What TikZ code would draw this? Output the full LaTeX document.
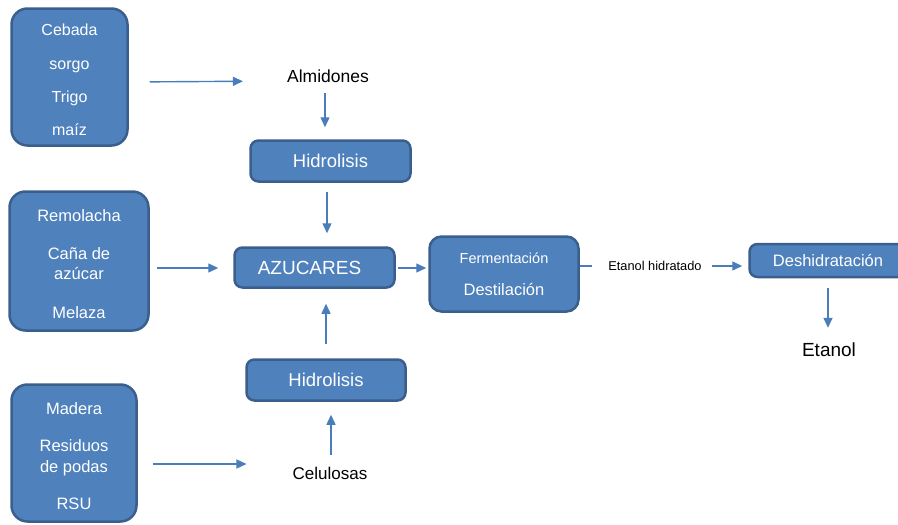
\documentclass[tikz,border=0pt]{standalone}
\usepackage{fontspec}
\setmainfont{Liberation Sans}
\usetikzlibrary{arrows.meta,calc}
\definecolor{boxfill}{HTML}{4F81BD}
\definecolor{boxline}{HTML}{3A5F8C}
\definecolor{arrowc}{HTML}{4A7EBB}
\tikzset{
  bx/.style={draw=boxline, fill=boxfill, line width=2.5pt, rounded corners=#1,
    text=white, align=center, inner sep=0pt},
  bx/.default=8pt,
  arr/.style={draw=arrowc, line width=1.4pt, -{Triangle[length=10pt,width=9pt]}},
  plain/.style={draw=arrowc, line width=1.4pt},
  lbl/.style={text=black, inner sep=3pt},
}
\begin{document}
\begin{tikzpicture}[x=1pt,y=-1pt]
\useasboundingbox (0,0) rectangle (898,525);

% source boxes
\node[bx=16pt, minimum width=116pt, minimum height=137pt,
      font=\fontsize{16}{33.3}\selectfont] (b1) at (69.5,77)
  {\rule{0pt}{18pt}Cebada\\sorgo\\Trigo\\maíz};
\node[bx=16pt, minimum width=139pt, minimum height=139pt,
      font=\fontsize{16.5}{20.5}\selectfont] (b2) at (79,261)
  {\rule{0pt}{18pt}Remolacha\\[17pt]Caña de\\azúcar\\[18pt]Melaza};
\node[bx=16pt, minimum width=125pt, minimum height=137pt,
      font=\fontsize{16.5}{21.5}\selectfont] (b3) at (74,453)
  {\rule{0pt}{18pt}Madera\\[15.5pt]Residuos\\de podas\\[15.5pt]RSU};

% process boxes
\node[bx, minimum width=160pt, minimum height=41pt,
      font=\fontsize{18.5}{22}\selectfont] (hid1) at (330.5,161) {Hidrolisis};
\node[bx, minimum width=160pt, minimum height=40pt,
      font=\fontsize{19}{22}\selectfont] (azu) at (314.5,267.5) {AZUCARES\hspace*{10pt}};
\node[bx=12pt, minimum width=149pt, minimum height=75pt,
      font=\fontsize{16.5}{19}\selectfont] (ferm) at (504,274)
  {{\fontsize{14.5}{17}\selectfont Fermentación}\\[13pt]Destilación};
\node[bx, minimum width=157pt, minimum height=33pt,
      font=\fontsize{16.5}{20}\selectfont] (desh) at (828,260.5) {Deshidratación};
\node[bx, minimum width=159pt, minimum height=41pt,
      font=\fontsize{18.5}{22}\selectfont] (hid2) at (326,380) {Hidrolisis};

% plain labels
\node[lbl, font=\fontsize{17.5}{20}\selectfont] (alm) at (328,76) {Almidones};
\node[lbl, font=\fontsize{17}{20}\selectfont] (cel) at (330,473) {Celulosas};
\node[lbl, font=\fontsize{12.8}{15}\selectfont] (eh) at (655,266) {Etanol hidratado};
\node[lbl, font=\fontsize{19}{22}\selectfont] (eta) at (829,350) {Etanol};

% connectors
\draw[arr, shorten <=21pt, shorten >=41pt]
  ($(b1.east)+(0,5)$) -- ($(alm.west)+(0,5)$);
\draw[arr, shorten <=7pt, shorten >=12pt]
  ($(alm.south)+(-3,0)$) -- ($(hid1.north)+(-5.5,0)$);
\draw[arr, shorten <=9pt, shorten >=13pt]
  ($(hid1.south)+(-3.5,0)$) -- ($(azu.north)+(12.5,0)$);
\draw[arr, shorten <=7pt, shorten >=15pt]
  ($(b2.east)+(0,7)$) -- ($(azu.west)+(0,0.5)$);
\draw[arr, shorten <=2pt, shorten >=2pt]
  ($(azu.east)+(0,0.5)$) -- ($(ferm.west)+(0,-6)$);
\draw[plain, shorten >=13pt]
  ($(ferm.east)+(0,-8)$) -- (eh.west);
\draw[arr, shorten <=7pt, shorten >=6pt]
  (eh.east) -- ($(desh.west)+(0,5.5)$);
\draw[arr, shorten <=10pt, shorten >=12pt]
  (desh.south) -- ($(eta.north)+(-1,0)$);
\draw[arr, shorten <=15pt, shorten >=43pt]
  ($(b3.east)+(0,11)$) -- ($(cel.west)+(0,-9)$);
\draw[arr, shorten <=8.5pt, shorten >=13pt]
  ($(cel.north)+(1,0)$) -- ($(hid2.south)+(5,0)$);
\draw[arr, shorten <=14pt, shorten >=15pt]
  (hid2.north) -- ($(azu.south)+(11.5,0)$);
\end{tikzpicture}
\end{document}
